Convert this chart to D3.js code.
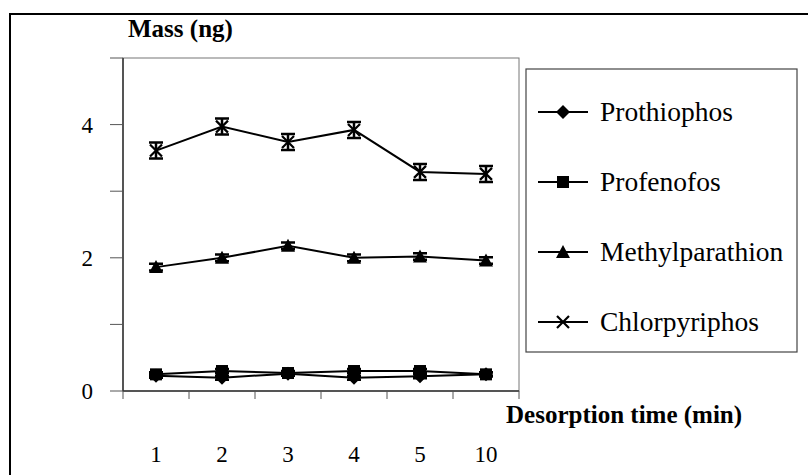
<!DOCTYPE html>
<html>
<head>
<meta charset="utf-8">
<script src="https://cdn.jsdelivr.net/npm/d3@7"></script>
<style>
  body { margin: 0; background: #fff; }
  text { font-family: "Liberation Serif", "Times New Roman", serif; fill: #000; }
</style>
</head>
<body>
<div id="chart"></div>
<script>
// data
var times = ["1", "2", "3", "4", "5", "10"];
var prothiophos = [0.23, 0.20, 0.26, 0.20, 0.22, 0.25];
var profenofos = [0.25, 0.30, 0.27, 0.30, 0.30, 0.25];
var methylparathion = [1.86, 2.00, 2.18, 2.00, 2.02, 1.96];
var chlorpyriphos = [3.61, 3.97, 3.74, 3.92, 3.29, 3.26];
var errProthiophos = [0.03, 0.03, 0.03, 0.03, 0.03, 0.03];
var errProfenofos = [0.03, 0.03, 0.03, 0.03, 0.03, 0.03];
var errMethyl = [0.05, 0.05, 0.05, 0.05, 0.05, 0.05];
var errChlor = [0.12, 0.12, 0.12, 0.12, 0.12, 0.12];
var seriesNames = ["Prothiophos", "Profenofos", "Methylparathion", "Chlorpyriphos"];
var yTicks = [0, 1, 2, 3, 4, 5];
var yLabels = [0, 2, 4];

var width = 808, height = 475;
var plotLeft = 123, plotRight = 519, plotTop = 58, plotBottom = 391;

var svg = d3.select("#chart").append("svg")
  .attr("width", width)
  .attr("height", height);

// outer frame (only top and left edges show in the picture)
svg.append("path")
  .attr("d", "M10,476 L10,14 L809,14")
  .attr("fill", "none")
  .attr("stroke", "#000")
  .attr("stroke-width", 2);

var x = d3.scaleBand().domain(times).range([plotLeft, plotRight]);
var y = d3.scaleLinear().domain([0, 5]).range([plotBottom, plotTop]);

// plot box
svg.append("rect")
  .attr("x", plotLeft).attr("y", plotTop)
  .attr("width", plotRight - plotLeft).attr("height", plotBottom - plotTop)
  .attr("fill", "none").attr("stroke", "#777").attr("stroke-width", 1);

// y axis
svg.append("line")
  .attr("x1", plotLeft).attr("x2", plotLeft)
  .attr("y1", plotTop).attr("y2", plotBottom)
  .attr("stroke", "#333").attr("stroke-width", 1.5);
svg.selectAll(".ytick").data(yTicks).enter().append("line")
  .attr("x1", plotLeft - 13).attr("x2", plotLeft)
  .attr("y1", function(d) { return y(d); })
  .attr("y2", function(d) { return y(d); })
  .attr("stroke", "#555").attr("stroke-width", 1);
svg.selectAll(".ylab").data(yLabels).enter().append("text")
  .attr("x", 93)
  .attr("y", function(d) { return y(d); })
  .attr("dy", "0.35em")
  .attr("text-anchor", "end")
  .attr("font-size", 23)
  .text(function(d) { return d; });

// x axis
svg.append("line")
  .attr("x1", plotLeft).attr("x2", plotRight)
  .attr("y1", plotBottom).attr("y2", plotBottom)
  .attr("stroke", "#333").attr("stroke-width", 1.5);
var edges = times.map(function(d) { return x(d); }).concat([plotRight]);
svg.selectAll(".xtick").data(edges).enter().append("line")
  .attr("x1", function(d) { return d; }).attr("x2", function(d) { return d; })
  .attr("y1", plotBottom).attr("y2", plotBottom + 8)
  .attr("stroke", "#555").attr("stroke-width", 1);
svg.selectAll(".xlab").data(times).enter().append("text")
  .attr("x", function(d) { return x(d) + x.bandwidth() / 2; })
  .attr("y", 462)
  .attr("text-anchor", "middle")
  .attr("font-size", 23)
  .text(function(d) { return d; });

// axis titles
svg.append("text")
  .attr("x", 128).attr("y", 37)
  .attr("font-size", 25).attr("font-weight", "bold")
  .text("Mass (ng)");
svg.append("text")
  .attr("x", 506).attr("y", 423)
  .attr("font-size", 25).attr("font-weight", "bold")
  .text("Desorption time (min)");

// marker drawing
function drawMarker(g, type, cx, cy) {
  if (type === "diamond") {
    g.append("path")
      .attr("d", "M" + cx + "," + (cy - 7) + " L" + (cx + 7) + "," + cy + " L" + cx + "," + (cy + 7) + " L" + (cx - 7) + "," + cy + "Z")
      .attr("fill", "#000");
  } else if (type === "square") {
    g.append("rect")
      .attr("x", cx - 6).attr("y", cy - 6).attr("width", 12).attr("height", 12)
      .attr("fill", "#000");
  } else if (type === "triangle") {
    g.append("path")
      .attr("d", "M" + cx + "," + (cy - 7) + " L" + (cx + 7) + "," + (cy + 6) + " L" + (cx - 7) + "," + (cy + 6) + "Z")
      .attr("fill", "#000");
  } else {
    g.append("path")
      .attr("d", "M" + (cx - 6) + "," + (cy - 6) + " L" + (cx + 6) + "," + (cy + 6) + " M" + (cx + 6) + "," + (cy - 6) + " L" + (cx - 6) + "," + (cy + 6))
      .attr("stroke", "#000").attr("stroke-width", 2.2).attr("fill", "none");
  }
}

var series = [
  { name: seriesNames[0], values: prothiophos, err: errProthiophos, marker: "diamond" },
  { name: seriesNames[1], values: profenofos, err: errProfenofos, marker: "square" },
  { name: seriesNames[2], values: methylparathion, err: errMethyl, marker: "triangle" },
  { name: seriesNames[3], values: chlorpyriphos, err: errChlor, marker: "cross" }
];

var line = d3.line()
  .x(function(d, i) { return x(times[i]) + x.bandwidth() / 2; })
  .y(function(d) { return y(d); });

series.forEach(function(s) {
  var g = svg.append("g");
  g.append("path")
    .attr("d", line(s.values))
    .attr("fill", "none").attr("stroke", "#000").attr("stroke-width", 2);
  s.values.forEach(function(v, i) {
    var cx = x(times[i]) + x.bandwidth() / 2;
    var y1 = y(v + s.err[i]), y2 = y(v - s.err[i]);
    g.append("path")
      .attr("d", "M" + cx + "," + y1 + " L" + cx + "," + y2 +
        " M" + (cx - 7) + "," + y1 + " L" + (cx + 7) + "," + y1 +
        " M" + (cx - 7) + "," + y2 + " L" + (cx + 7) + "," + y2)
      .attr("stroke", "#000").attr("stroke-width", 2.5).attr("fill", "none");
    drawMarker(g, s.marker, cx, y(v));
  });
});

// legend
svg.append("rect")
  .attr("x", 526).attr("y", 69).attr("width", 271).attr("height", 283)
  .attr("fill", "#fff").attr("stroke", "#444").attr("stroke-width", 1.2);
var legendY = d3.scalePoint().domain(seriesNames).range([112, 322]);
series.forEach(function(s) {
  var ly = legendY(s.name);
  var g = svg.append("g");
  g.append("line")
    .attr("x1", 538).attr("x2", 588).attr("y1", ly).attr("y2", ly)
    .attr("stroke", "#000").attr("stroke-width", 2);
  drawMarker(g, s.marker, 563, ly);
  g.append("text")
    .attr("x", 600).attr("y", ly)
    .attr("dy", "0.33em")
    .attr("font-size", 27.5)
    .text(s.name);
});
</script>
</body>
</html>
